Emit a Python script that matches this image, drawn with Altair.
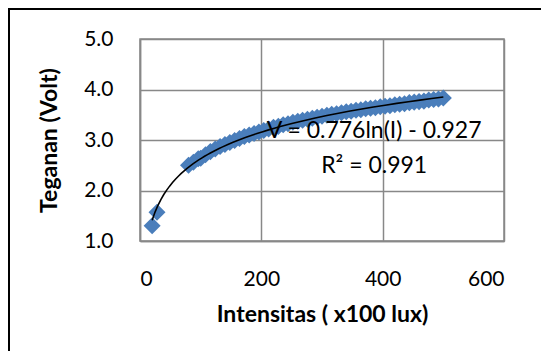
import altair as alt
import pandas as pd

# Measured data: light intensity (x100 lux) vs voltage (Volt)
intensity = [20, 28, 80, 88, 96, 100, 108, 116, 124, 132, 140, 148, 156, 164, 172,
             180, 188, 196, 204, 212, 220, 228, 236, 244, 252, 260, 268, 276, 284,
             292, 300, 308, 316, 324, 332, 340, 348, 356, 364, 372, 380, 388, 396,
             404, 412, 420, 428, 436, 444, 452, 460, 468, 476, 484, 492, 500]
voltage = [1.30, 1.57, 2.50, 2.56, 2.63, 2.64, 2.71, 2.77, 2.82, 2.87, 2.91, 2.95,
           2.99, 3.03, 3.07, 3.10, 3.13, 3.16, 3.19, 3.22, 3.25, 3.27, 3.30, 3.32,
           3.35, 3.37, 3.39, 3.41, 3.43, 3.45, 3.47, 3.49, 3.51, 3.52, 3.54, 3.56,
           3.57, 3.59, 3.60, 3.62, 3.63, 3.64, 3.66, 3.67, 3.68, 3.70, 3.71, 3.72,
           3.74, 3.75, 3.76, 3.77, 3.79, 3.80, 3.81, 3.83]

# Trendline annotation
eq_text = ["V = 0.776ln(I) - 0.927", "R² = 0.991"]
eq_x = [386, 386]
eq_y = [3.18, 2.49]

x_ticks = [0, 200, 400, 600]
y_ticks = [1.0, 2.0, 3.0, 4.0, 5.0]

df = pd.DataFrame({"I": intensity, "V": voltage})
ann = pd.DataFrame({"t": eq_text, "x": eq_x, "y": eq_y})

FONT = "Lato"
x_enc = alt.X("I:Q", scale=alt.Scale(domain=[0, 600], nice=False),
              axis=alt.Axis(values=x_ticks, title="Intensitas ( x100 lux)",
                            grid=True, ticks=False, labelPadding=27,
                            titlePadding=14))
y_enc = alt.Y("V:Q", scale=alt.Scale(domain=[1, 5], nice=False, zero=False),
              axis=alt.Axis(values=y_ticks, format=".1f", title="Teganan (Volt)",
                            grid=True, ticks=False, labelPadding=27,
                            titlePadding=22))

points = alt.Chart(df).mark_point(
    shape="diamond", filled=True, size=290, color="#4a7ebb", opacity=1
).encode(x=x_enc, y=y_enc)

trend = alt.Chart(df).transform_regression(
    "I", "V", method="log"
).mark_line(color="black", strokeWidth=1.6).encode(x="I:Q", y="V:Q")

text = alt.Chart(ann).mark_text(
    font=FONT, fontSize=23, color="black", align="center", baseline="middle"
).encode(x="x:Q", y="y:Q", text="t:N")

frame_left = alt.Chart(df).mark_rule(color="black", strokeWidth=2).encode(
    x=alt.value(-131), y=alt.value(-31), y2=alt.value(330))
frame_top = alt.Chart(df).mark_rule(color="black", strokeWidth=2).encode(
    x=alt.value(-132), x2=alt.value(420), y=alt.value(-30))

chart = alt.layer(points, trend, text, frame_left, frame_top).properties(
    width=364, height=202,
    autosize=alt.AutoSizeParams(type="none"),
    padding={"left": 132, "top": 31, "right": 37, "bottom": 110},
).configure_view(
    stroke="#888888", strokeWidth=1.5
).configure_axis(
    labelFont=FONT, labelFontSize=21, labelColor="black",
    titleFont=FONT, titleFontSize=23, titleFontWeight="bold", titleColor="black",
    gridColor="#888888", gridWidth=1.5, gridOpacity=1,
    domainColor="#888888", domainWidth=1.5
)

chart.save("out.html", embed_options={"renderer": "svg", "actions": False})
